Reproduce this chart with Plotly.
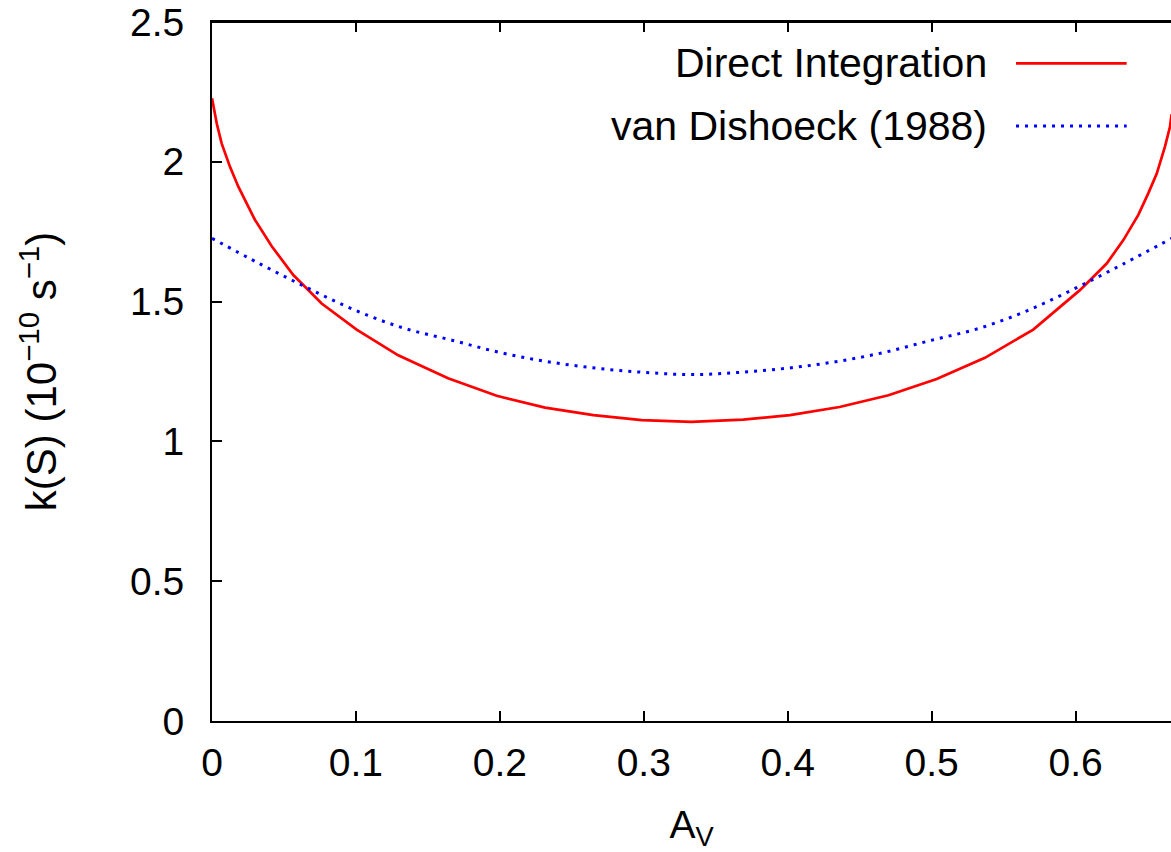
import plotly.graph_objects as go

# Direct Integration (red, solid)
av_direct = [0.0, 0.0033, 0.0067, 0.0125, 0.0183, 0.0299, 0.0415, 0.0565, 0.0762,
             0.1005, 0.1294, 0.164, 0.1978, 0.2314, 0.265, 0.2986, 0.333,
             0.369, 0.4016, 0.436, 0.470, 0.5035, 0.537, 0.5706, 0.603,
             0.6216, 0.6332, 0.6436, 0.6505, 0.6564, 0.6621, 0.6656, 0.6667]
k_direct = [2.227, 2.137, 2.066, 1.982, 1.911, 1.792, 1.698, 1.595, 1.493,
            1.400, 1.308, 1.226, 1.163, 1.121, 1.094, 1.076, 1.070,
            1.078, 1.094, 1.123, 1.165, 1.223, 1.299, 1.400, 1.541,
            1.636, 1.720, 1.810, 1.887, 1.958, 2.054, 2.125, 2.17]

# van Dishoeck (1988) (blue, dotted)
av_vd = [0.0, 0.0333, 0.0667, 0.1, 0.1333, 0.1667, 0.2, 0.2333, 0.2667, 0.3, 0.3333,
         0.3667, 0.4, 0.4333, 0.4667, 0.5, 0.5333, 0.5667, 0.6, 0.6333, 0.6667]
k_vd = [1.726, 1.635, 1.548, 1.468, 1.405, 1.362, 1.318, 1.285, 1.262, 1.247, 1.239,
        1.247, 1.262, 1.285, 1.318, 1.362, 1.405, 1.468, 1.548, 1.635, 1.726]

series_names = ["Direct Integration", "van Dishoeck (1988)"]
x_ticks = [0, 0.1, 0.2, 0.3, 0.4, 0.5, 0.6]
x_tick_labels = ["0", "0.1", "0.2", "0.3", "0.4", "0.5", "0.6"]
y_ticks = [0, 0.5, 1, 1.5, 2, 2.5]
y_tick_labels = ["0", "0.5", "1", "1.5", "2", "2.5"]

FONT = "Liberation Sans, Arial, sans-serif"
FS = 39

fig = go.Figure()
fig.add_trace(go.Scatter(x=av_direct, y=k_direct, mode="lines", name=series_names[0],
                         line=dict(color="#ff0000", width=2.7)))
fig.add_trace(go.Scatter(x=av_vd, y=k_vd, mode="lines", name=series_names[1],
                         line=dict(color="#0000ff", width=3, dash="3px,6px", shape="spline")))

# legend drawn manually (text right-aligned, sample on the right)
leg_y = [0.9409, 0.8512]
styles = [dict(color="#ff0000", width=2.7), dict(color="#0000ff", width=3, dash="3px,6px")]
for name, yy, st in zip(series_names, leg_y, styles):
    fig.add_annotation(xref="paper", yref="paper", x=0.8102, y=yy, text=name,
                       showarrow=False, xanchor="right", yanchor="middle",
                       font=dict(family=FONT, size=41, color="black"))
    fig.add_shape(type="line", xref="paper", yref="paper", x0=0.8384, x1=0.9538,
                  y0=yy, y1=yy, line=st)

# top border of the frame
fig.add_shape(type="line", xref="paper", yref="paper", x0=0, x1=1, y0=1, y1=1,
              line=dict(color="black", width=2))

fig.update_layout(
    template="none",
    width=1171, height=852,
    margin=dict(l=212, r=0, t=22, b=131, pad=0, autoexpand=False),
    paper_bgcolor="white", plot_bgcolor="white",
    showlegend=False,
    font=dict(family=FONT, size=FS, color="black"),
    xaxis=dict(range=[0, 0.6663], tickvals=x_ticks, ticktext=x_tick_labels,
               ticks="inside", ticklen=10, tickwidth=1.5, tickcolor="black",
               showline=True, linewidth=2, linecolor="black", mirror="ticks",
               showgrid=False, zeroline=False, ticklabelstandoff=6, automargin=False,
               title=dict(text="A<sub>V</sub>", standoff=40,
                          font=dict(family=FONT, size=FS))),
    yaxis=dict(range=[0, 2.5], tickvals=y_ticks, ticktext=y_tick_labels,
               ticks="inside", ticklen=10, tickwidth=1.5, tickcolor="black",
               showline=True, linewidth=2, linecolor="black",
               showgrid=False, zeroline=False, ticklabelstandoff=18, automargin=False,
               title=dict(text="k(S) (10<sup>\u221210</sup> s<sup>\u22121</sup>)", standoff=60,
                          font=dict(family=FONT, size=42))),
    yaxis2=dict(range=[0, 2.5], tickvals=y_ticks, overlaying="y", side="right",
                anchor="x", ticks="inside", ticklen=10, tickwidth=1.5, tickcolor="black",
                showticklabels=False, showline=False, showgrid=False, zeroline=False,
                automargin=False),
)

fig.write_html("out.html", config={"displayModeBar": False},
               post_script="document.body.style.margin='0';document.body.style.overflow='hidden';")
